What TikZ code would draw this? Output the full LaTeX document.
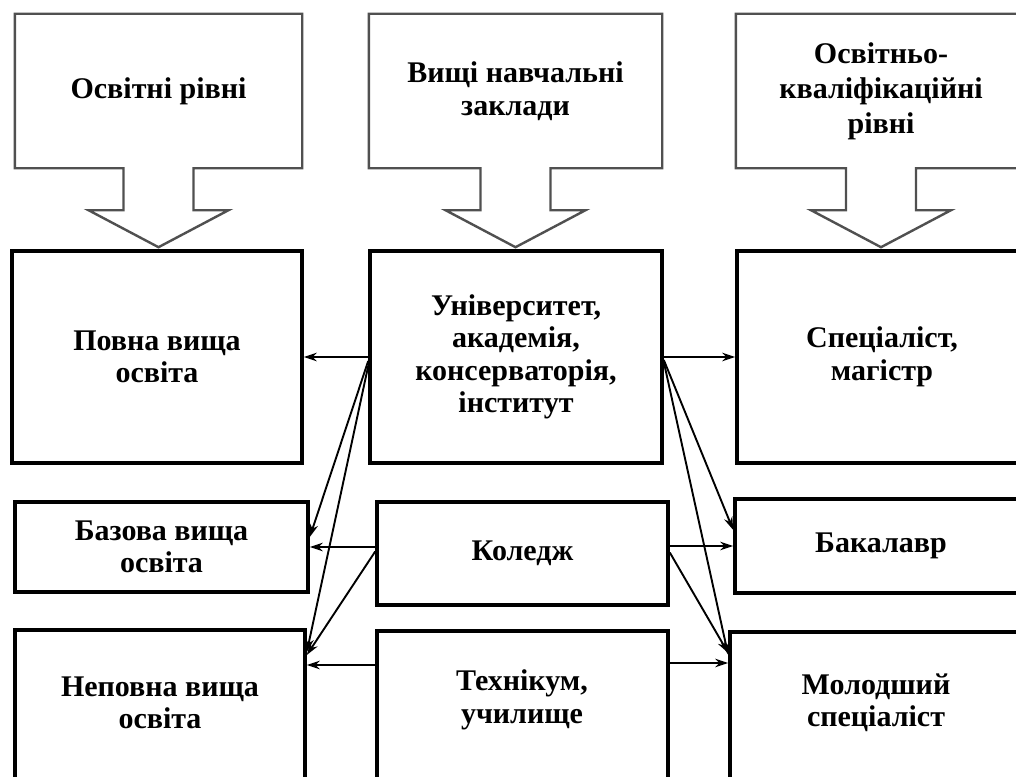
\documentclass[tikz,border=0pt]{standalone}
\usepackage{fontspec}
\setmainfont{Liberation Serif}
\usetikzlibrary{calc,arrows.meta}
\definecolor{callgray}{RGB}{80,80,80}
\begin{document}
\begin{tikzpicture}[x=1pt,y=-1pt,
  txt/.style={align=center,font=\fontsize{30}{32.5}\selectfont\bfseries,inner sep=0pt},
  mainbox/.style={txt,draw=black,line width=3.6pt},
  callbox/.style={txt,minimum height=154pt},
  callline/.style={draw=callgray,line width=2.4pt,line join=miter},
  conn/.style={line width=1.9pt,-{Stealth[length=13pt,width=8.5pt]}}]
\useasboundingbox (0,0) rectangle (1016,776);
\clip (0,0) rectangle (1016,776);
\fill[white] (0,0) rectangle (1016,776);

% top callouts
\node[callbox,minimum width=287pt] (cA) at (158.5,91) {Освітні рівні};
\node[callbox,minimum width=293pt] (cB) at (515.5,91) {Вищі навчальні\\заклади};
\node[callbox,minimum width=290pt,font=\fontsize{30}{35}\selectfont\bfseries] (cC) at (881,91) {Освітньо-\\кваліфікаційні\\рівні};
\foreach \c in {cA,cB,cC}{
  \draw[callline] (\c.north west) -- (\c.north east) -- (\c.south east)
    -- ($(\c.south)+(35,0)$) -- ++(0,42) -- ++(35,0) -- ($(\c.south)+(0,79)$)
    -- ++(-70,-37) -- ++(35,0) -- ++(0,-42) -- (\c.south west) -- cycle;
}

% row 1
\node[mainbox,minimum width=290pt,minimum height=212pt] (povna) at (157,357) {Повна вища\\освіта};
\node[mainbox,minimum width=292pt,minimum height=212pt] (univ) at (516,357) {Університет,\\академія,\\консерваторія,\\інститут};
\node[mainbox,minimum width=290pt,minimum height=212pt] (spec) at (882,357) {Спеціаліст,\\магістр};

% row 2
\node[mainbox,minimum width=293pt,minimum height=90pt] (bazova) at (161.5,547) {Базова вища\\освіта};
\node[mainbox,minimum width=291pt,minimum height=103pt] (koledzh) at (522.5,553.5) {Коледж};
\node[mainbox,minimum width=292pt,minimum height=94pt] (bakalavr) at (881,546) {Бакалавр};

% row 3 (cut by the lower edge)
\node[mainbox,anchor=north,minimum width=290pt,minimum height=200pt] (nepovna) at (160,628) {};
\node[mainbox,anchor=north,minimum width=291pt,minimum height=200pt] (tekh) at (522.5,629) {};
\node[mainbox,anchor=north,minimum width=292pt,minimum height=200pt] (molod) at (876,630) {};
\node[txt] (nepovnaT) at (160,703) {Неповна вища\\освіта};
\node[txt] (tekhT) at (522,700) {Технікум,\\училище};
\node[txt] (molodT) at (876,703) {Молодший\\спеціаліст};

% connectors, left side
\draw[conn] (univ.west) -- (univ.west -| povna.east);
\draw[conn] ($(univ.west)+(0,4)$) -- ($(bazova.east)+(0,-10)$);
\draw[conn] ($(univ.west)+(0,9)$) -- ($(nepovna.north east)+(0,24)$);
\draw[conn] (koledzh.west |- bazova.east) -- (bazova.east);
\draw[conn] ($(koledzh.west)+(0,-2)$) -- ($(nepovna.north east)+(0,27)$);
\draw[conn] ($(tekh.north west)+(0,36)$) coordinate (t1) -- (t1 -| nepovna.east);

% connectors, right side
\draw[conn] (univ.east) -- (univ.east -| spec.west);
\draw[conn] ($(univ.east)+(0,3)$) -- ($(bakalavr.west)+(0,-16)$);
\draw[conn] ($(univ.east)+(0,5)$) -- ($(molod.north west)+(0,25)$);
\draw[conn] (koledzh.east |- bakalavr.west) -- (bakalavr.west);
\draw[conn] ($(koledzh.east)+(0,-1)$) -- ($(molod.north west)+(0,23)$);
\draw[conn] ($(tekh.north east)+(0,34)$) coordinate (t2) -- (t2 -| molod.west);
\end{tikzpicture}
\end{document}
